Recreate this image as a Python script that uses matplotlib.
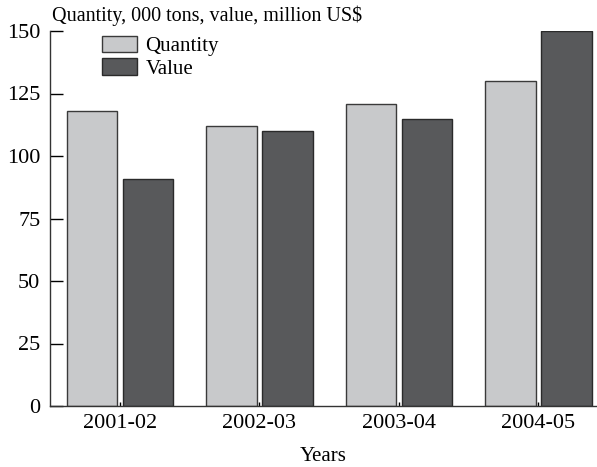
import matplotlib.pyplot as plt
import numpy as np

plt.rcParams['font.family'] = ['Liberation Serif', 'DejaVu Serif']

# data
years = ['2001-02', '2002-03', '2003-04', '2004-05']
quantity = [118, 112, 121, 130]
value = [91, 110, 115, 150]

light = '#c8c9cb'
dark = '#58595b'

fig = plt.figure(figsize=(5.97, 4.67), dpi=100)
ax = fig.add_axes([50 / 597, 1 - 406 / 467, 1 - 50 / 597, (406 - 31) / 467])

x = np.arange(len(years))
w = 0.363
off = 0.2
ax.bar(x - off, quantity, w, color=light, edgecolor='#3a3a3a', linewidth=1, label='Quantity')
ax.bar(x + off, value, w, color=dark, edgecolor='#2a2a2a', linewidth=1, label='Value')

ax.set_xlim(-0.502, 3.42)
ax.set_ylim(0, 150)
ax.set_yticks([0, 25, 50, 75, 100, 125, 150])
ax.set_xticks(x)
ax.set_xticklabels(years)
ax.tick_params(axis='y', direction='in', length=9.5, width=1, labelsize=16, pad=7)
ax.tick_params(axis='x', direction='in', length=3, width=1, labelsize=16, pad=6)

for s in ['top', 'right']:
    ax.spines[s].set_visible(False)
for s in ['left', 'bottom']:
    ax.spines[s].set_color('#333333')
    ax.spines[s].set_linewidth(1)

ax.set_xlabel('Years', fontsize=15, labelpad=10)

fig.text(52 / 597, 1 - 16 / 467, 'Quantity, 000 tons, value, million US$',
         fontsize=14.5, va='center', ha='left')

ax.legend(loc='upper left', bbox_to_anchor=(87 / 597, 1 - 21 / 467),
          bbox_transform=fig.transFigure, frameon=False, fontsize=15,
          handlelength=1.7, handleheight=0.85, handletextpad=0.4,
          labelspacing=0.1, borderpad=0.2)

plt.savefig('out.png', dpi=100)
plt.close()
